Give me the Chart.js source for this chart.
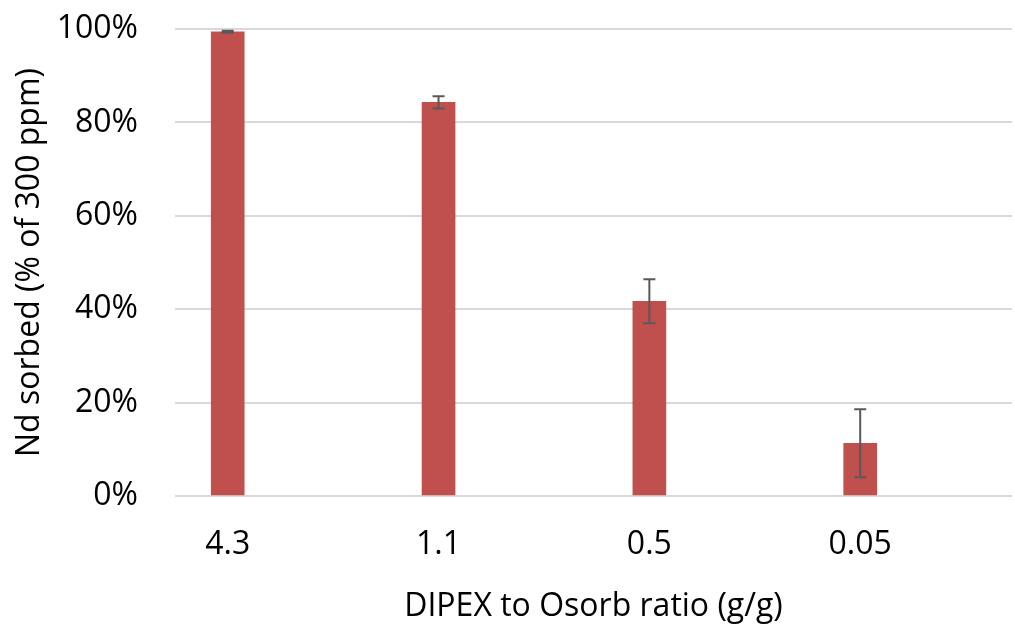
<!DOCTYPE html>
<html>
<head>
<meta charset="utf-8">
<script src="https://cdn.jsdelivr.net/npm/chart.js@4/dist/chart.umd.min.js"></script>
<style>
  html, body { margin: 0; padding: 0; background: #fff; }
  #wrap { width: 1015px; height: 627px; position: relative; }
</style>
</head>
<body>
<div id="wrap"><canvas id="js-chart-nd"></canvas></div>
<script>
// Chart data
const categories = ['4.3', '1.1', '0.5', '0.05'];
const ndSorbed = [99.4, 84.3, 41.7, 11.3];
const ndError = [0.2, 1.3, 4.7, 7.3];
const yTicks = [0, 20, 40, 60, 80, 100];

const fontFamily = "'Open Sans', 'Noto Sans', sans-serif";
Chart.defaults.font.family = fontFamily;
Chart.defaults.color = '#000';

// Simple error bar plugin, uses the chart's own scales
const errorBars = {
  id: 'errorBars',
  afterDatasetsDraw(chart) {
    const ctx = chart.ctx;
    const yScale = chart.scales.y;
    const meta = chart.getDatasetMeta(0);
    ctx.save();
    ctx.strokeStyle = '#595959';
    ctx.lineWidth = 2;
    meta.data.forEach((bar, i) => {
      const yTop = yScale.getPixelForValue(ndSorbed[i] + ndError[i]);
      const yBot = yScale.getPixelForValue(ndSorbed[i] - ndError[i]);
      const x = bar.x;
      const cap = 6;
      ctx.beginPath();
      ctx.moveTo(x, yTop); ctx.lineTo(x, yBot);
      ctx.moveTo(x - cap, yTop); ctx.lineTo(x + cap, yTop);
      ctx.moveTo(x - cap, yBot); ctx.lineTo(x + cap, yBot);
      ctx.stroke();
    });
    ctx.restore();
  }
};

let chartCon = document.getElementById('js-chart-nd');

new Chart(chartCon, {
  type: 'bar',
  data: {
    datasets: [{
      label: 'Nd sorbed',
      data: ndSorbed.map((v, i) => ({x: i, y: v})),
      backgroundColor: '#c0504d',
      borderWidth: 0,
      barThickness: 33
    }]
  },
  options: {
    responsive: true,
    maintainAspectRatio: false,
    animation: false,
    layout: {padding: {top: 29, right: 3, bottom: 0, left: 0}},
    plugins: {legend: {display: false}, tooltip: {enabled: false}},
    scales: {
      x: {
        type: 'linear',
        offset: false,
        min: -0.25,
        max: 3.72,
        grid: {display: false},
        border: {display: false},
        ticks: {
          stepSize: 1,
          includeBounds: false,
          autoSkip: false,
          maxRotation: 0,
          padding: 22,
          font: {size: 32},
          callback: v => (Number.isInteger(v) && categories[v] !== undefined) ? categories[v] : ''
        },
        title: {
          display: true,
          text: 'DIPEX to Osorb ratio (g/g)',
          font: {size: 32},
          padding: {top: 0, bottom: 1}
        },
        afterFit: scale => { scale.height = 131; }
      },
      y: {
        min: 0,
        max: 100,
        grid: {color: '#d9d9d9', lineWidth: 2, drawTicks: true, tickLength: 37, tickColor: 'rgba(0,0,0,0)'},
        border: {display: false},
        afterBuildTicks: scale => { scale.ticks = yTicks.map(v => ({value: v})); },
        ticks: {
          padding: 0,
          font: {size: 32},
          callback: v => v + '%'
        },
        title: {
          display: true,
          text: 'Nd sorbed (% of 300 ppm)',
          font: {size: 32},
          padding: {top: 11, bottom: 0}
        },
        afterFit: scale => { scale.width = 175; }
      }
    }
  },
  plugins: [errorBars]
});
</script>
</body>
</html>
